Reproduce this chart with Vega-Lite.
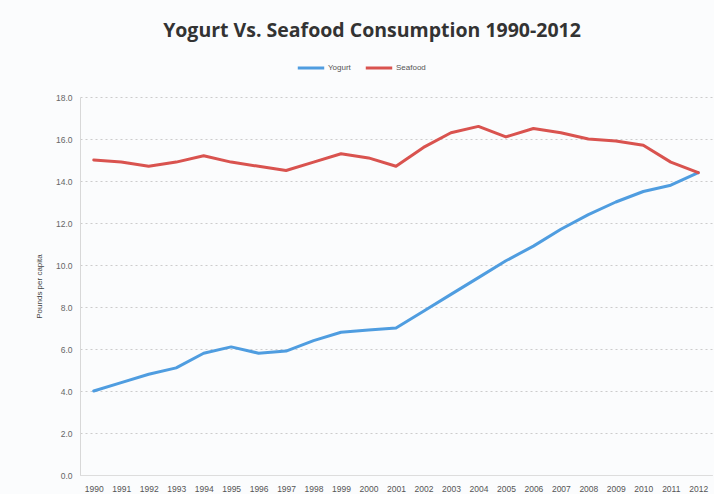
{
  "$schema": "https://vega.github.io/schema/vega-lite/v6.json",
  "width": 632,
  "height": 378,
  "autosize": "none",
  "padding": {"left": 80, "top": 97, "right": 2, "bottom": 19},
  "background": "#fbfcfd",
  "title": {
    "text": "Yogurt Vs. Seafood Consumption 1990-2012",
    "font": "Open Sans",
    "fontSize": 19.5,
    "fontWeight": "bold",
    "color": "#333333",
    "anchor": "middle",
    "offset": 12,
    "dx": -24
  },
  "data": {
    "values": [
      {"year": "1990", "series": "Yogurt", "value": 4.0},
      {"year": "1991", "series": "Yogurt", "value": 4.4},
      {"year": "1992", "series": "Yogurt", "value": 4.8},
      {"year": "1993", "series": "Yogurt", "value": 5.1},
      {"year": "1994", "series": "Yogurt", "value": 5.8},
      {"year": "1995", "series": "Yogurt", "value": 6.1},
      {"year": "1996", "series": "Yogurt", "value": 5.8},
      {"year": "1997", "series": "Yogurt", "value": 5.9},
      {"year": "1998", "series": "Yogurt", "value": 6.4},
      {"year": "1999", "series": "Yogurt", "value": 6.8},
      {"year": "2000", "series": "Yogurt", "value": 6.9},
      {"year": "2001", "series": "Yogurt", "value": 7.0},
      {"year": "2002", "series": "Yogurt", "value": 7.8},
      {"year": "2003", "series": "Yogurt", "value": 8.6},
      {"year": "2004", "series": "Yogurt", "value": 9.4},
      {"year": "2005", "series": "Yogurt", "value": 10.2},
      {"year": "2006", "series": "Yogurt", "value": 10.9},
      {"year": "2007", "series": "Yogurt", "value": 11.7},
      {"year": "2008", "series": "Yogurt", "value": 12.4},
      {"year": "2009", "series": "Yogurt", "value": 13.0},
      {"year": "2010", "series": "Yogurt", "value": 13.5},
      {"year": "2011", "series": "Yogurt", "value": 13.8},
      {"year": "2012", "series": "Yogurt", "value": 14.4},
      {"year": "1990", "series": "Seafood", "value": 15.0},
      {"year": "1991", "series": "Seafood", "value": 14.9},
      {"year": "1992", "series": "Seafood", "value": 14.7},
      {"year": "1993", "series": "Seafood", "value": 14.9},
      {"year": "1994", "series": "Seafood", "value": 15.2},
      {"year": "1995", "series": "Seafood", "value": 14.9},
      {"year": "1996", "series": "Seafood", "value": 14.7},
      {"year": "1997", "series": "Seafood", "value": 14.5},
      {"year": "1998", "series": "Seafood", "value": 14.9},
      {"year": "1999", "series": "Seafood", "value": 15.3},
      {"year": "2000", "series": "Seafood", "value": 15.1},
      {"year": "2001", "series": "Seafood", "value": 14.7},
      {"year": "2002", "series": "Seafood", "value": 15.6},
      {"year": "2003", "series": "Seafood", "value": 16.3},
      {"year": "2004", "series": "Seafood", "value": 16.6},
      {"year": "2005", "series": "Seafood", "value": 16.1},
      {"year": "2006", "series": "Seafood", "value": 16.5},
      {"year": "2007", "series": "Seafood", "value": 16.3},
      {"year": "2008", "series": "Seafood", "value": 16.0},
      {"year": "2009", "series": "Seafood", "value": 15.9},
      {"year": "2010", "series": "Seafood", "value": 15.7},
      {"year": "2011", "series": "Seafood", "value": 14.9},
      {"year": "2012", "series": "Seafood", "value": 14.4}
    ]
  },
  "mark": {"type": "line", "strokeWidth": 3, "strokeCap": "round", "strokeJoin": "round"},
  "encoding": {
    "x": {
      "field": "year",
      "type": "ordinal",
      "scale": {"type": "point", "padding": 0.5},
      "axis": {
        "title": null,
        "labelAngle": 0,
        "labelFontSize": 8.5,
        "labelFont": "Liberation Sans",
        "labelColor": "#555555",
        "labelPadding": 9,
        "ticks": false,
        "domain": true,
        "domainColor": "#dddddd",
        "grid": false,
        "labelOverlap": false
      }
    },
    "y": {
      "field": "value",
      "type": "quantitative",
      "scale": {"domain": [0, 18], "nice": false},
      "axis": {
        "title": "Pounds per capita",
        "titleFont": "Liberation Sans",
        "titleFontSize": 8,
        "titleFontWeight": "normal",
        "titleColor": "#444444",
        "titlePadding": 12,
        "values": [0, 2, 4, 6, 8, 10, 12, 14, 16, 18],
        "format": ".1f",
        "labelFont": "Liberation Sans",
        "labelFontSize": 8.5,
        "labelColor": "#666666",
        "labelPadding": 8,
        "ticks": false,
        "domain": true,
        "domainColor": "#d8d8d8",
        "grid": true,
        "gridColor": "#cccccc",
        "gridDash": [2, 3],
        "gridWidth": 1
      }
    },
    "color": {
      "field": "series",
      "type": "nominal",
      "scale": {"domain": ["Yogurt", "Seafood"], "range": ["#4F9DE0", "#D9534F"]},
      "legend": {
        "title": null,
        "orient": "none",
        "direction": "horizontal",
        "legendX": 216,
        "legendY": -44,
        "symbolType": "stroke",
        "symbolSize": 700,
        "symbolStrokeWidth": 3,
        "labelFont": "Liberation Sans",
        "labelFontSize": 8,
        "labelColor": "#555555",
        "labelOffset": 2,
        "columnPadding": 8
      }
    }
  },
  "config": {
    "view": {"stroke": null}
  }
}
